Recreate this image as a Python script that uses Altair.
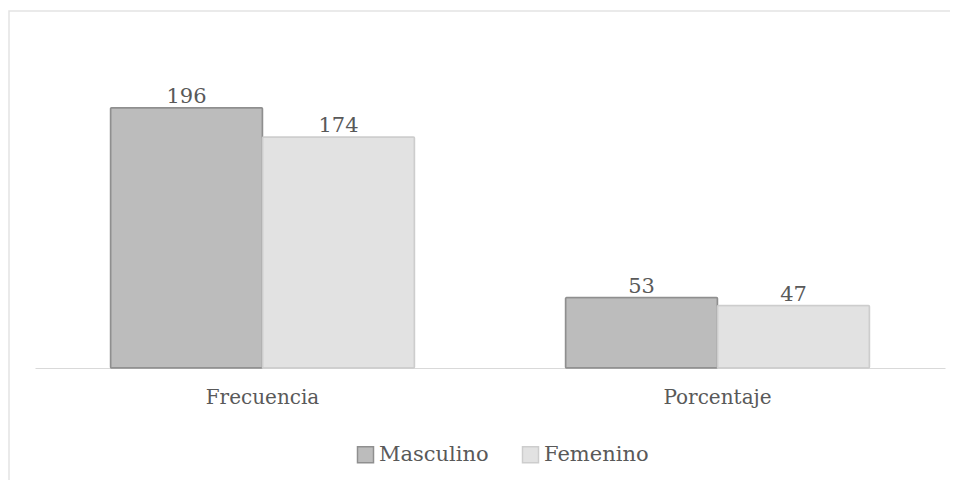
import altair as alt
import pandas as pd

categories = ["Frecuencia", "Frecuencia", "Porcentaje", "Porcentaje"]
series = ["Masculino", "Femenino", "Masculino", "Femenino"]
values = [196, 174, 53, 47]

series_order = ["Masculino", "Femenino"]
fill_colors = ["#bcbcbc", "#e2e2e2"]
stroke_colors = ["#8f8f8f", "#cdcdcd"]

df = pd.DataFrame({"cat": categories, "serie": series, "valor": values})

FONT = "DejaVu Serif"

x = alt.X("cat:N", title=None, sort=["Frecuencia", "Porcentaje"],
          scale=alt.Scale(paddingInner=0.332, paddingOuter=0.166),
          axis=alt.Axis(labelAngle=0, ticks=False, domainColor="#d9d9d9", domainWidth=1,
                        labelPadding=19, labelFont=FONT, labelFontSize=20, labelColor="#595959"))
xo = alt.XOffset("serie:N", sort=series_order)
y = alt.Y("valor:Q", title=None, scale=alt.Scale(domain=[0, 250]), axis=None)

base = alt.Chart(df)

bars = base.mark_bar(strokeWidth=1.5, cornerRadius=1).encode(
    x=x, xOffset=xo, y=y,
    fill=alt.Fill("serie:N", sort=series_order, title=None,
                  scale=alt.Scale(domain=series_order, range=fill_colors),
                  legend=alt.Legend(orient="none", legendX=320, legendY=408, direction="horizontal",
                                    symbolType="square", symbolSize=256, symbolStrokeWidth=1.5,
                                    labelFont=FONT, labelFontSize=21, labelColor="#595959",
                                    columnPadding=30, labelOffset=3)),
    stroke=alt.Stroke("serie:N", sort=series_order, title=None,
                      scale=alt.Scale(domain=series_order, range=stroke_colors)),
)

labels = base.mark_text(baseline="alphabetic", dy=-5, font=FONT, fontSize=21, color="#595959").encode(
    x=x, xOffset=xo, y=y, text=alt.Text("valor:Q"),
)

frame = alt.Chart(pd.DataFrame({"a": [0]})).mark_rect(fill=None, stroke="#e3e3e3", strokeWidth=1.5).encode(
    x=alt.value(-26), x2=alt.value(960), y=alt.value(-25), y2=alt.value(470)
)

chart = alt.layer(frame, bars, labels).properties(
    width=910, height=332,
    padding={"left": 27, "top": 28, "right": 5, "bottom": 112},
    autosize=alt.AutoSizeParams(type="none"),
).configure_view(stroke=None)

chart.save("out.html", embed_options={"renderer": "svg", "actions": False})
